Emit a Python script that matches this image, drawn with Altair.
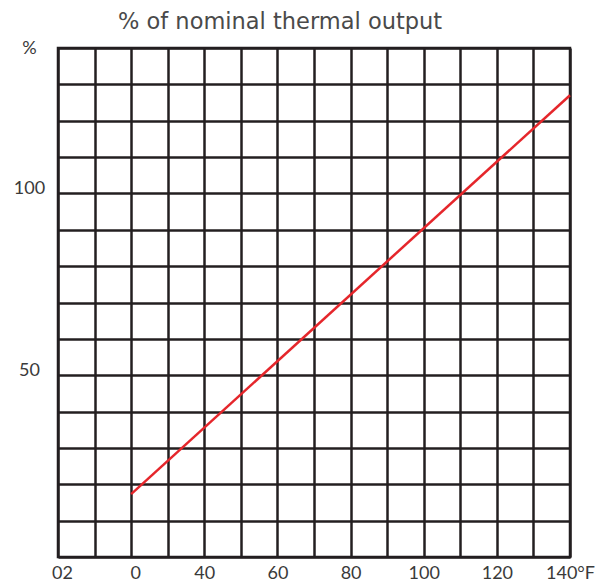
import altair as alt
import pandas as pd

# grid positions (column index / percent)
x_grid = list(range(0, 15))
y_grid = list(range(0, 150, 10))

# x tick labels at every second column
x_tick_values = [0, 2, 4, 6, 8, 10, 12, 14]
x_tick_labels = ["02", "0", "40", "60", "80", "100", "120", "140°F"]

# y tick labels
y_tick_values = [140, 100, 50]
y_tick_labels = ["%", "100", "50"]

# red line (column index, % of nominal thermal output)
line_x = [2, 14]
line_y = [17.3, 127.0]

df = pd.DataFrame({"x": line_x, "y": line_y})

x_map = "{" + ",".join(f"'{v}':'{l}'" for v, l in zip(x_tick_values, x_tick_labels)) + "}"
y_map = "{" + ",".join(f"'{v}':'{l}'" for v, l in zip(y_tick_values, y_tick_labels)) + "}"

GRID = "#231f20"
FONT = "Lato"
LABEL = "#3a3a3a"

chart = alt.Chart(df).mark_line(color="#e5262b", strokeWidth=2.5).encode(
    x=alt.X("x:Q", scale=alt.Scale(domain=[0, 14], nice=False, zero=False),
            axis=alt.Axis(values=x_grid, title=None, grid=True, gridColor=GRID,
                          gridWidth=2.5, gridOpacity=1, domain=False, ticks=False,
                          tickSize=0, labelPadding=7,
                          labelOffset=alt.condition("datum.value <= 2", alt.value(4), alt.value(0)),
                          labelExpr=f"({x_map})[datum.value] || ''",
                          labelFont=FONT, labelFontSize=18, labelFontWeight="normal",
                          labelColor=LABEL, labelFlush=False, labelOverlap=False,
                          labelBaseline="top")),
    y=alt.Y("y:Q", scale=alt.Scale(domain=[0, 140], nice=False, zero=False),
            axis=alt.Axis(values=y_grid, title=None, grid=True, gridColor=GRID,
                          gridWidth=2.5, gridOpacity=1, domain=False, ticks=False,
                          tickSize=0, labelPadding=29, labelAlign="center",
                          labelBaseline=alt.condition("datum.value == 140", alt.value("middle"), alt.value("alphabetic")),
                          labelExpr=f"({y_map})[datum.value] || ''",
                          labelFont=FONT, labelFontSize=18, labelFontWeight="normal",
                          labelColor=LABEL, labelFlush=False, labelOverlap=False)),
).properties(
    width=512, height=509,
    title=alt.TitleParams("% of nominal thermal output", anchor="start", frame="group", dx=60,
                          font="DejaVu Sans", fontSize=22.5, fontWeight="normal", color="#4a4a4a",
                          baseline="alphabetic", offset=-12),
    autosize=alt.AutoSizeParams(type="none"),
    padding={"left": 50, "top": 40, "right": 30, "bottom": 27},
).configure_view(stroke=GRID, strokeWidth=2.5)

chart.save("out.html", embed_options={"renderer": "svg", "actions": False})
